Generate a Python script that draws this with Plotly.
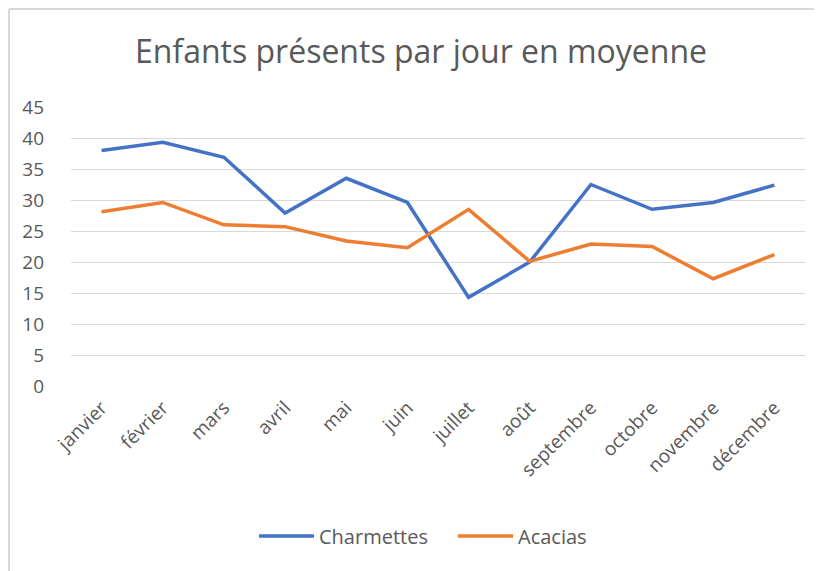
import plotly.graph_objects as go

months = ["janvier", "février", "mars", "avril", "mai", "juin", "juillet",
          "août", "septembre", "octobre", "novembre", "décembre"]
charmettes = [38.0, 39.3, 36.9, 27.9, 33.5, 29.6, 14.3, 20.0, 32.5, 28.5, 29.6, 32.4]
acacias = [28.1, 29.6, 26.0, 25.7, 23.4, 22.3, 28.5, 20.1, 22.9, 22.5, 17.3, 21.2]
y_ticks = [0, 5, 10, 15, 20, 25, 30, 35, 40, 45]

FONT = "Open Sans, Noto Sans, sans-serif"
GREY = "#595959"

fig = go.Figure()
fig.add_trace(go.Scatter(x=months, y=charmettes, mode="lines", name="Charmettes",
                         line=dict(color="#4472C4", width=3.5)))
fig.add_trace(go.Scatter(x=months, y=acacias, mode="lines", name="Acacias",
                         line=dict(color="#ED7D31", width=3.5)))

# page body has an 8px margin: figure origin sits at page (8, 8)
OFF = 8
W, H = 822 - OFF, 571 - OFF
L, T = 71 - OFF, 107 - OFF
R = W - (805 - OFF)
B = H - (386 - OFF)
pw, ph = W - L - R, H - T - B

fig.update_layout(
    width=W, height=H,
    margin=dict(l=L, r=R, t=T, b=B, autoexpand=False),
    paper_bgcolor="white", plot_bgcolor="white",
    title=dict(text="Enfants présents par jour en moyenne",
               x=(421 - OFF) / W, xanchor="center", y=1 - (52 - OFF) / H, yanchor="middle",
               font=dict(family=FONT, size=32, color=GREY)),
    font=dict(family=FONT, color=GREY),
    showlegend=True,
    legend=dict(orientation="h", x=(254 - OFF - L) / pw, xanchor="left",
                y=(T + ph - (536 - OFF)) / ph, yanchor="middle",
                font=dict(family=FONT, size=20, color=GREY),
                itemwidth=55, entrywidth=129, entrywidthmode="pixels"),
    xaxis=dict(type="category", range=[-0.5, len(months) - 0.5],
               showgrid=False, zeroline=False, showline=False,
               tickangle=-45, tickfont=dict(size=19, color=GREY),
               ticks="", ticklabelstandoff=6),
    yaxis=dict(range=[0, 45], tickvals=y_ticks, showgrid=True, gridcolor="#d9d9d9",
               gridwidth=1, zeroline=False, showline=False,
               tickfont=dict(size=19, color=GREY), ticks="", ticklabelstandoff=26),
    shapes=[
        dict(type="line", xref="paper", yref="paper",
             x0=(1 - L) / pw, x1=(W + 5 - L) / pw,
             y0=1 + (T - 1) / ph, y1=1 + (T - 1) / ph,
             line=dict(color="#d9d9d9", width=2)),
        dict(type="line", xref="paper", yref="paper",
             x0=(1 - L) / pw, x1=(1 - L) / pw,
             y0=1 + (T - 1) / ph, y1=-(B + 5) / ph,
             line=dict(color="#d9d9d9", width=2)),
    ],
)

fig.write_html("out.html")
